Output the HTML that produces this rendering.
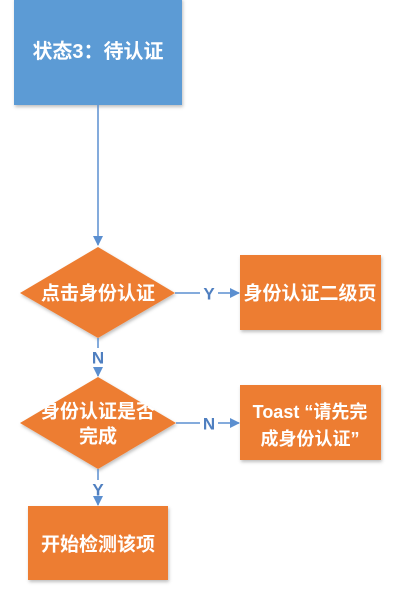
<!DOCTYPE html>
<html><head><meta charset="utf-8"><style>
html,body{margin:0;padding:0;background:#fff;}
svg{display:block;}
text{font-family:"Liberation Sans","Noto Sans CJK SC",sans-serif;font-weight:bold;fill:#fff;text-anchor:middle;dominant-baseline:central;}
.l{fill:#4f7fc0;}
</style></head><body>
<svg width="412" height="608" viewBox="0 0 412 608">
<defs>
<filter id="s" x="-10%" y="-10%" width="130%" height="130%"><feDropShadow dx="1" dy="2" stdDeviation="1.5" flood-color="#000" flood-opacity="0.25"/></filter>
<marker id="a" markerWidth="10" markerHeight="10" refX="9" refY="5" orient="auto" markerUnits="userSpaceOnUse"><path d="M0,0 L10,5 L0,10 z" fill="#5b8fd0"/></marker>
</defs>
<rect x="14" y="-2" width="168" height="107" fill="#5b9bd5" filter="url(#s)"/>
<text x="98" y="52" font-size="20">状态3：待认证</text>
<line x1="98" y1="105" x2="98" y2="245" stroke="#5b8fd0" stroke-width="1.5" marker-end="url(#a)"/>
<polygon points="98,247 175,293 98,338 20,293" fill="#ed7d31" filter="url(#s)"/>
<text x="98" y="294" font-size="19">点击身份认证</text>
<line x1="175" y1="293" x2="200" y2="293" stroke="#5b8fd0" stroke-width="1.5"/>
<line x1="218" y1="293" x2="239" y2="293" stroke="#5b8fd0" stroke-width="1.5" marker-end="url(#a)"/>
<text x="209" y="294" font-size="17" class="l">Y</text>
<rect x="240" y="255" width="141" height="75" fill="#ed7d31" filter="url(#s)"/>
<text x="310" y="294" font-size="19">身份认证二级页</text>
<line x1="98" y1="338" x2="98" y2="348" stroke="#5b8fd0" stroke-width="1.5"/>
<text x="98" y="358" font-size="17" class="l">N</text>
<line x1="98" y1="368" x2="98" y2="376" stroke="#5b8fd0" stroke-width="1.5" marker-end="url(#a)"/>
<polygon points="98,377 176,423 98,469 20,423" fill="#ed7d31" filter="url(#s)"/>
<text x="98" y="412" font-size="19">身份认证是否</text>
<text x="98" y="437" font-size="19">完成</text>
<line x1="176" y1="423" x2="200" y2="423" stroke="#5b8fd0" stroke-width="1.5"/>
<line x1="218" y1="423" x2="239" y2="423" stroke="#5b8fd0" stroke-width="1.5" marker-end="url(#a)"/>
<text x="209" y="424" font-size="17" class="l">N</text>
<rect x="240" y="385" width="141" height="75" fill="#ed7d31" filter="url(#s)"/>
<text x="310" y="412" font-size="18">Toast “请先完</text>
<text x="310" y="439" font-size="18">成身份认证”</text>
<line x1="98" y1="469" x2="98" y2="480" stroke="#5b8fd0" stroke-width="1.5"/>
<text x="98" y="490" font-size="17" class="l">Y</text>
<line x1="98" y1="498" x2="98" y2="505" stroke="#5b8fd0" stroke-width="1.5" marker-end="url(#a)"/>
<rect x="28" y="506" width="140" height="74" fill="#ed7d31" filter="url(#s)"/>
<text x="98" y="545" font-size="19">开始检测该项</text>
</svg>
</body></html>
